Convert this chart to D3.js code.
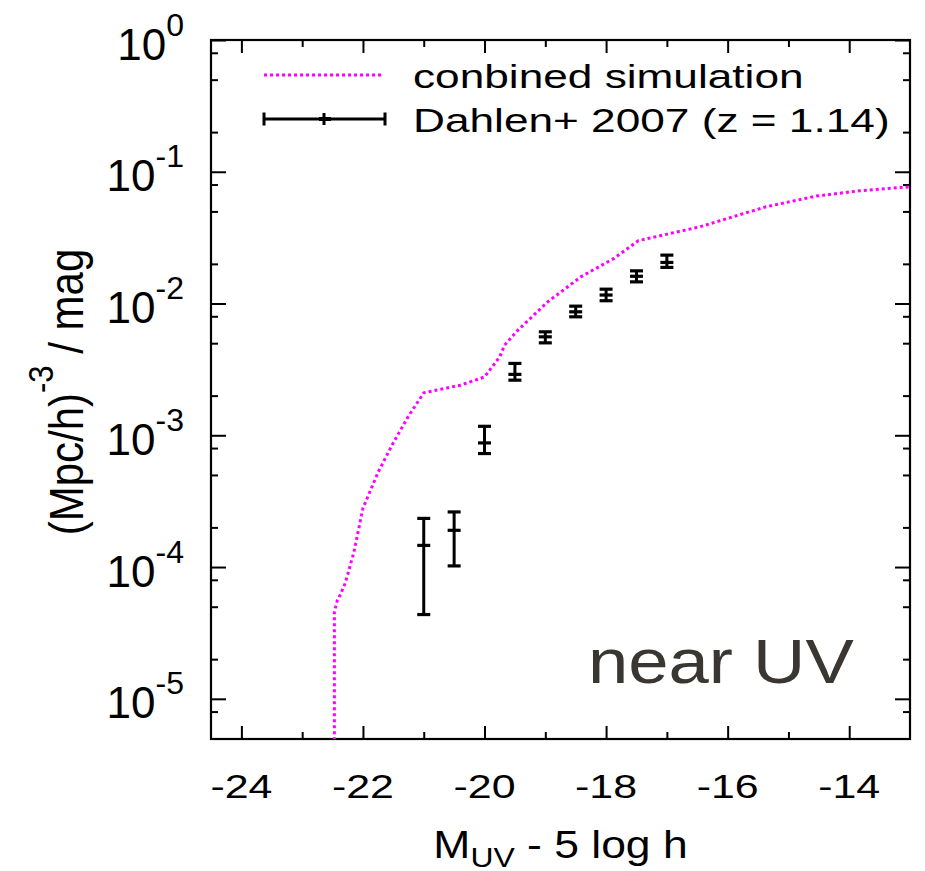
<!DOCTYPE html>
<html>
<head>
<meta charset="utf-8">
<script src="https://cdn.jsdelivr.net/npm/d3@7"></script>
<style>
  body { margin: 0; background: #fff; }
  svg { display: block; }
  text { font-family: "Liberation Sans", Arial, Helvetica, sans-serif; fill: #000; }
</style>
</head>
<body>
<svg id="chart" width="925" height="871"></svg>
<script>
// Combined simulation: UV luminosity function (magnitude, number density)
const simMag = [-22.47, -22.47, -22.42, -22.37, -22.30, -22.25, -22.20, -22.15, -22.00,
                -21.75, -21.50, -21.25, -21.00, -20.40, -20.00, -19.75, -19.67, -19.45,
                -18.96, -18.41, -17.87, -17.47, -16.46, -15.37, -14.54, -13.83, -13.00];
const simPhi = [1e-7, 4.6e-5, 5.6e-5, 6.2e-5, 7.4e-5, 8.8e-5, 1.07e-4, 1.29e-4, 2.8e-4,
                5.25e-4, 8.8e-4, 1.4e-3, 2.1e-3, 2.4e-3, 2.77e-3, 3.94e-3, 4.83e-3, 6.28e-3,
                1.03e-2, 1.6e-2, 2.2e-2, 3.0e-2, 3.82e-2, 5.42e-2, 6.54e-2, 7.17e-2, 7.69e-2];

// Dahlen et al. 2007, z = 1.14
const obsMag  = [-21, -20.5, -20, -19.5, -19, -18.5, -18, -17.5, -17];
const obsPhi  = [1.46e-4, 1.90e-4, 8.75e-4, 2.90e-3, 5.59e-3, 8.65e-3, 1.16e-2, 1.61e-2, 2.05e-2];
const obsLow  = [4.36e-5, 1.02e-4, 7.27e-4, 2.62e-3, 5.03e-3, 7.93e-3, 1.05e-2, 1.46e-2, 1.88e-2];
const obsHigh = [2.34e-4, 2.62e-4, 1.17e-3, 3.51e-3, 6.10e-3, 9.55e-3, 1.285e-2, 1.77e-2, 2.33e-2];

// Axis ticks
const xMajor = [-24, -22, -20, -18, -16, -14];
const xMinor = [-23, -21, -19, -17, -15];
const yDecades = [0, -1, -2, -3, -4, -5];
const yMinorMult = [2, 5, 8];

const legendLabels = ["conbined simulation", "Dahlen+ 2007 (z = 1.14)"];

const L = 211, R = 910, T = 40, B = 739;
const svg = d3.select("#chart");

const x = d3.scaleLinear().domain([-24.5, -13]).range([L, R]);
const y = d3.scaleLog().domain([Math.pow(10, -5.305), 1]).range([B, T]);

const yMinorVals = [];
yDecades.forEach(e => yMinorMult.forEach(m => {
  const v = m * Math.pow(10, e - 1);
  if (v > y.domain()[0] && v < 1) yMinorVals.push(v);
}));
const yMajorVals = yDecades.map(e => Math.pow(10, e));

// clip region
svg.append("defs").append("clipPath").attr("id", "plotClip")
  .append("rect").attr("x", L).attr("y", T).attr("width", R - L).attr("height", B - T);

// tick marks (inward, mirrored on all four sides)
function tickGroup(axisFn, scale, vals, size, transform) {
  const g = svg.append("g").attr("transform", transform)
    .call(axisFn(scale).tickValues(vals).tickSizeInner(size).tickSizeOuter(0).tickFormat(""));
  g.select(".domain").remove();
  g.selectAll("line").attr("stroke", "#000").attr("stroke-width", 2);
}
tickGroup(d3.axisBottom, x, xMajor, -13, `translate(0,${B})`);
tickGroup(d3.axisBottom, x, xMinor, -7, `translate(0,${B})`);
tickGroup(d3.axisTop, x, xMajor, -13, `translate(0,${T})`);
tickGroup(d3.axisTop, x, xMinor, -7, `translate(0,${T})`);
tickGroup(d3.axisLeft, y, yMajorVals, -15, `translate(${L},0)`);
tickGroup(d3.axisLeft, y, yMinorVals, -7, `translate(${L},0)`);
tickGroup(d3.axisRight, y, yMajorVals, -15, `translate(${R},0)`);
tickGroup(d3.axisRight, y, yMinorVals, -7, `translate(${R},0)`);

// frame
svg.append("rect").attr("x", L).attr("y", T).attr("width", R - L).attr("height", B - T)
  .attr("fill", "none").attr("stroke", "#000").attr("stroke-width", 2.2);

// x tick labels
svg.append("g").selectAll("text").data(xMajor).join("text")
  .attr("transform", d => `translate(${x(d)},798) scale(1.3,1)`)
  .attr("text-anchor", "middle").attr("font-size", 33)
  .text(d => d3.format("d")(d).replace("−", "-"));

// y tick labels 10^n
const yl = svg.append("g").selectAll("text").data(yDecades).join("text")
  .attr("x", 184).attr("y", d => y(Math.pow(10, d)) + 19.5)
  .attr("text-anchor", "end").attr("font-size", 44);
yl.append("tspan").text("10");
yl.append("tspan").attr("font-size", 32).attr("dy", -24).text(d => d === 0 ? "0" : "-" + Math.abs(d));

// x-axis title
const xt = svg.append("text")
  .attr("transform", `translate(${(L + R) / 2},858) scale(1.14,1)`)
  .attr("text-anchor", "middle").attr("font-size", 39);
xt.append("tspan").text("M");
xt.append("tspan").attr("font-size", 28).attr("dy", 9).text("UV");
xt.append("tspan").attr("dy", -9).text(" - 5 log h");

// y-axis title
const yt = svg.append("text")
  .attr("transform", `translate(83,392) rotate(-90) scale(1,1.14)`)
  .attr("text-anchor", "middle").attr("font-size", 42);
yt.append("tspan").text("(Mpc/h)");
yt.append("tspan").attr("font-size", 31).attr("dy", -26).text("-3");
yt.append("tspan").attr("dy", 26).text(" / mag");

// simulation curve
const simData = simMag.map((m, i) => [m, simPhi[i]]);
svg.append("path").datum(simData)
  .attr("clip-path", "url(#plotClip)")
  .attr("d", d3.line().x(d => x(d[0])).y(d => y(d[1])))
  .attr("fill", "none").attr("stroke", "#ff00ff").attr("stroke-width", 3)
  .attr("stroke-dasharray", "3,3");

// observational points with error bars
const cap = 13;
const obs = svg.append("g").selectAll("g").data(obsMag.map((m, i) => ({m, p: obsPhi[i], lo: obsLow[i], hi: obsHigh[i]})))
  .join("g").attr("stroke", "#000");
obs.append("line").attr("x1", d => x(d.m)).attr("x2", d => x(d.m))
  .attr("y1", d => y(d.lo)).attr("y2", d => y(d.hi)).attr("stroke-width", 3);
obs.append("line").attr("x1", d => x(d.m) - cap / 2).attr("x2", d => x(d.m) + cap / 2)
  .attr("y1", d => y(d.lo)).attr("y2", d => y(d.lo)).attr("stroke-width", 3.2);
obs.append("line").attr("x1", d => x(d.m) - cap / 2).attr("x2", d => x(d.m) + cap / 2)
  .attr("y1", d => y(d.hi)).attr("y2", d => y(d.hi)).attr("stroke-width", 3.2);
obs.append("line").attr("x1", d => x(d.m) - cap / 2).attr("x2", d => x(d.m) + cap / 2)
  .attr("y1", d => y(d.p)).attr("y2", d => y(d.p)).attr("stroke-width", 3.2);

// legend
const lg = svg.append("g");
lg.append("line").attr("x1", 264).attr("x2", 383).attr("y1", 75).attr("y2", 75)
  .attr("stroke", "#ff00ff").attr("stroke-width", 3).attr("stroke-dasharray", "3,3");
const ly = 119;
lg.append("line").attr("x1", 264).attr("x2", 385).attr("y1", ly).attr("y2", ly)
  .attr("stroke", "#000").attr("stroke-width", 3);
[264, 385].forEach(px => lg.append("line").attr("x1", px).attr("x2", px)
  .attr("y1", ly - 6.5).attr("y2", ly + 6.5).attr("stroke", "#000").attr("stroke-width", 3));
lg.append("line").attr("x1", 324).attr("x2", 324).attr("y1", ly - 6).attr("y2", ly + 6)
  .attr("stroke", "#000").attr("stroke-width", 3);
lg.append("line").attr("x1", 319).attr("x2", 331).attr("y1", ly).attr("y2", ly)
  .attr("stroke", "#000").attr("stroke-width", 4);
legendLabels.forEach((t, i) => lg.append("text")
  .attr("transform", `translate(413,${88 + i * 44}) scale(1.3,1)`)
  .attr("font-size", 34).text(t));

// panel label
svg.append("text").attr("transform", "translate(588,683) scale(1.15,1)")
  .attr("font-family", "'Noto Sans', sans-serif").attr("font-weight", 300)
  .attr("font-size", 63).style("fill", "#3a3631").text("near UV");
</script>
</body>
</html>
